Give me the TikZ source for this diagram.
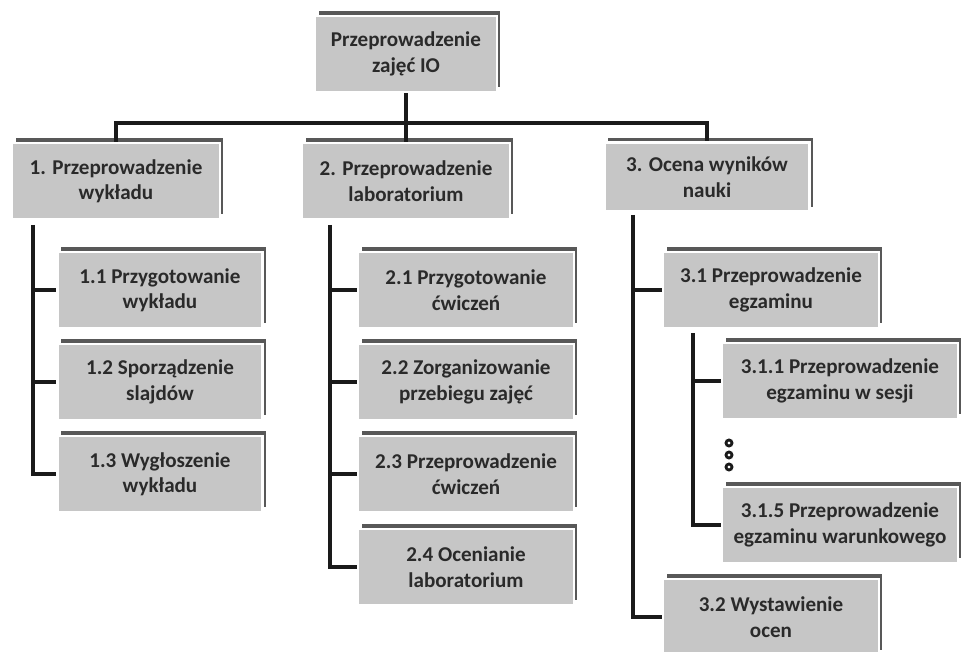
\documentclass[tikz,border=0pt]{standalone}
\usepackage{fontspec}
\setmainfont{Carlito}
\usetikzlibrary{shadows}
\definecolor{taskfill}{HTML}{C6C6C6}
\definecolor{taskshade}{HTML}{585858}
\definecolor{tasktext}{HTML}{2A2A2A}
\definecolor{treeline}{HTML}{1A1A1A}

\begin{document}
\begin{tikzpicture}[x=0.02cm, y=-0.02cm,
  task/.style={draw=white, line width=1.2pt, fill=taskfill,
    general shadow={fill=taskshade, shadow xshift=2pt, shadow yshift=2.6pt},
    minimum height=1.52cm, align=center, text=tasktext, inner sep=2pt,
    font=\fontsize{12}{14.5}\selectfont\bfseries},
  tree/.style={draw=treeline, line width=2pt}]

%%=== COORDINATE PLAN (1 unit = 1 px of 961 x 652) ===================
%%  Level 0: root centre x=406
%%  Level 1: x-centres 116 / 406 / 707, y=181, bus bar at y~124
%%  Level 2 rows: y = 290 / 382 / 474 / 567
%%  Spines: x = 33 / 330 / 633, sub-spine of 3.1 at x = 693
%%====================================================================

\useasboundingbox (0,0) rectangle (961,652);
\fill[white] (0,0) rectangle (961,652);

%% --- Root and main branches ----------------------------------------
\node[task, minimum width=3.64cm] (root) at (406,54) {Przeprowadzenie\\zajęć IO};

\node[task, minimum width=4.16cm] (w1) at (116,181) {1. Przeprowadzenie\\wykładu};
\node[task, minimum width=4.16cm] (w2) at (406,181) {2. Przeprowadzenie\\laboratorium};
\node[task, minimum width=4.1cm, minimum height=1.38cm] (w3) at (707,177) {3. Ocena wyników\\nauki};

%% --- Branch 1 ------------------------------------------------------
\node[task, minimum width=4.1cm] (w11) at (160,290) {1.1 Przygotowanie\\wykładu};
\node[task, minimum width=4.1cm] (w12) at (160,382) {1.2 Sporządzenie\\slajdów};
\node[task, minimum width=4.1cm] (w13) at (160,474) {1.3 Wygłoszenie\\wykładu};

%% --- Branch 2 ------------------------------------------------------
\node[task, minimum width=4.32cm] (w21) at (466,290) {2.1 Przygotowanie\\ćwiczeń};
\node[task, minimum width=4.32cm] (w22) at (466,382) {2.2 Zorganizowanie\\przebiegu zajęć};
\node[task, minimum width=4.32cm] (w23) at (466,474) {2.3 Przeprowadzenie\\ćwiczeń};
\node[task, minimum width=4.32cm] (w24) at (466,567) {2.4 Ocenianie\\laboratorium};

%% --- Branch 3 ------------------------------------------------------
\node[task, minimum width=4.32cm] (w31) at (771,290) {3.1 Przeprowadzenie\\egzaminu};
\node[task, minimum width=4.72cm] (w311) at (840,381) {3.1.1 Przeprowadzenie\\egzaminu w sesji};
\node[task, minimum width=4.72cm] (w315) at (840,525) {3.1.5 Przeprowadzenie\\egzaminu warunkowego};
\node[task, minimum width=4.32cm] (w32) at (771,617) {3.2 Wystawienie\\ocen};

%% --- Connectors ----------------------------------------------------
%% bus bar under the root
\draw[tree] (w1.north) -- ++(0,-19) -| (w3.north);
\draw[tree] (root.south) -- (w2.north);

%% spines of the branches
\coordinate (s1)  at (33,225);
\coordinate (s2)  at (330,225);
\coordinate (s3)  at (633,215);
\coordinate (s31) at (693,333);

\draw[tree] (s1) |- (w13.west);
\draw[tree] (s1 |- w11.west) -- (w11.west);
\draw[tree] (s1 |- w12.west) -- (w12.west);

\draw[tree] (s2) |- (w24.west);
\draw[tree] (s2 |- w21.west) -- (w21.west);
\draw[tree] (s2 |- w22.west) -- (w22.west);
\draw[tree] (s2 |- w23.west) -- (w23.west);

\draw[tree] (s3) |- (w32.west);
\draw[tree] (s3 |- w31.west) -- (w31.west);

\draw[tree] (s31) |- (w315.west);
\draw[tree] (s31 |- w311.west) -- (w311.west);

%% elision dots between 3.1.1 and 3.1.5
\foreach \dy in {443,455,467}
  \draw[treeline, line width=1.6pt] (729,\dy) circle (3);

\end{tikzpicture}
\end{document}
